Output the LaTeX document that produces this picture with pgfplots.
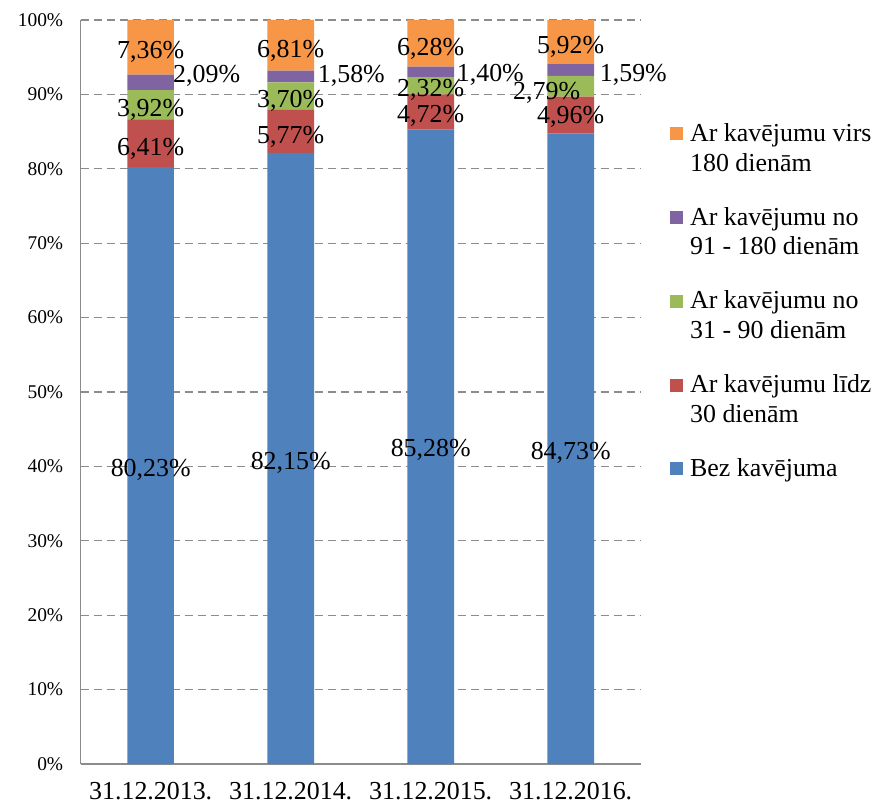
\documentclass[border=0pt]{standalone}
\usepackage{fontspec}
\setmainfont{Liberation Serif}
\usepackage{pgfplots}
\pgfplotsset{compat=1.18}
\definecolor{cblue}{HTML}{4F81BD}
\definecolor{cred}{HTML}{C0504D}
\definecolor{cgreen}{HTML}{9BBB59}
\definecolor{cpurple}{HTML}{8064A2}
\definecolor{corange}{HTML}{F79646}
\definecolor{gridgray}{HTML}{8C8C8C}
\pgfplotsset{
  seglabels/.style={
    nodes near coords, point meta=explicit symbolic,
    visualization depends on={\thisrow{dx} \as \labdx},
    visualization depends on={\thisrow{dy} \as \labdy},
    every node near coord/.append style={anchor=#1, text=black, inner sep=0pt,
      font=\fontsize{26}{30}\selectfont, xshift=\labdx bp, yshift=\labdy bp}
  },
  twolinesq/.style={legend image code/.code={\fill[##1] (0bp,7.5bp) rectangle (13bp,20.5bp);}},
  onelinesq/.style={legend image code/.code={\fill[##1] (0bp,4.5bp) rectangle (13bp,17.5bp);}},
}
\begin{document}
\begin{tikzpicture}
\begin{axis}[
  scale only axis,
  width=560bp, height=744bp,
  ybar stacked,
  bar width=46.6bp,
  xmin=-0.5, xmax=3.5,
  ymin=0, ymax=100,
  xtick={0,1,2,3},
  xticklabels={31.12.2013.,31.12.2014.,31.12.2015.,31.12.2016.},
  ytick={0,10,20,30,40,50,60,70,80,90,100},
  yticklabels={0\%,10\%,20\%,30\%,40\%,50\%,60\%,70\%,80\%,90\%,100\%},
  axis x line*=bottom, axis y line*=left,
  axis line style={gridgray, line width=1.5bp},
  major tick length=0pt,
  ymajorgrids,
  major grid style={gridgray, line width=1.3bp, dash pattern=on 8bp off 5bp},
  xticklabel style={font=\fontsize{26}{30}\selectfont, inner sep=0pt, yshift=-18.5bp},
  yticklabel style={font=\fontsize{19.5}{22}\selectfont, xshift=-14bp},
  legend style={draw=none, fill=none, inner sep=0pt,
    at={(axis description cs:1.0523,0.8615)}, anchor=north west,
    font=\fontsize{26}{30}\selectfont,
    nodes={inner sep=0pt},
    cells={align=left},
    row sep=34.5bp,
    /tikz/every odd column/.append style={column sep=7bp}},
  reverse legend,
  legend cell align=left,
  twolinesq,
  clip=false,
]
\addplot[fill=cblue, draw=none, seglabels=center, onelinesq]
  table[x=x, y=y, meta=lab] {
x y lab dx dy
0 80.23 80,23\% 0 -4.5
1 82.15 82,15\% 0 -4.5
2 85.28 85,28\% 0 -3.5
3 84.73 84,73\% 0 -4.5
};
\addlegendentry[yshift=11bp]{Bez kavējuma}
\addplot[fill=cred, draw=none, seglabels=center] table[x=x, y=y, meta=lab] {
x y lab dx dy
0 6.41 6,41\% 0 -5.5
1 5.77 5,77\% 0 -6
2 4.72 4,72\% 0 -4
3 4.96 4,96\% 0 -1.5
};
\addlegendentry{Ar kavējumu līdz\\30 dienām}
\addplot[fill=cgreen, draw=none, seglabels=center] table[x=x, y=y, meta=lab] {
x y lab dx dy
0 3.92 3,92\% 0 -5.5
1 3.70 3,70\% 0 -5
2 2.32 2,32\% 0 -4.5
3 2.79 2,79\% -24 -7
};
\addlegendentry{Ar kavējumu no\\31 - 90 dienām}
\addplot[fill=cpurple, draw=none, seglabels=west] table[x=x, y=y, meta=lab] {
x y lab dx dy
0 2.09 2,09\% 22.3 7
1 1.58 1,58\% 27 1
2 1.40 1,40\% 26 -3
3 1.59 1,59\% 29 -5
};
\addlegendentry{Ar kavējumu no\\91 - 180 dienām}
\addplot[fill=corange, draw=none, seglabels=center] table[x=x, y=y, meta=lab] {
x y lab dx dy
0 7.36 7,36\% 0 -4.5
1 6.81 6,81\% 0 -5.5
2 6.28 6,28\% 0 -6
3 5.92 5,92\% 0 -5
};
\addlegendentry{Ar kavējumu virs\\180 dienām}
\end{axis}
\pgfresetboundingbox
\path[use as bounding box] (-80.7bp,-43bp) rectangle (798.3bp,764bp);
\end{tikzpicture}
\end{document}
